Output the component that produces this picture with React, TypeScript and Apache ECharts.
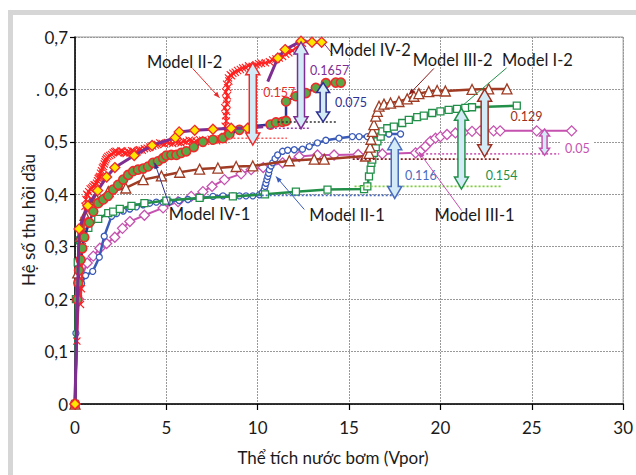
import React, { useEffect, useRef } from "react";
import * as echarts from "echarts";

// ---- axes ----
const xTicks = [0, 5, 10, 15, 20, 25, 30];
const yTickLabels = ["0", "0,1", "0,2", "0,3", "0,4", "0,5", ". 0,6", "0,7"];

// ---- recovery curves: [injected water (Vpor), oil recovery factor] ----
const modelII2: [number, number][] = [
  [0, 0], [0.1, 0.12], [0.2, 0.2], [0.3, 0.19], [0.35, 0.22], [0.4, 0.3], [0.45, 0.33], [0.5, 0.35],
  [0.55, 0.377], [0.6, 0.39], [0.64, 0.4], [0.7, 0.398], [0.75, 0.405], [0.83, 0.41], [0.91, 0.412],
  [0.98, 0.415], [1.05, 0.418], [1.12, 0.417], [1.18, 0.421], [1.23, 0.426], [1.27, 0.43], [1.32, 0.432],
  [1.36, 0.434], [1.4, 0.44], [1.45, 0.445], [1.5, 0.45], [1.55, 0.453], [1.6, 0.458], [1.64, 0.462],
  [1.68, 0.466], [1.73, 0.469], [1.8, 0.472], [1.9, 0.474], [2.0, 0.476], [2.09, 0.479], [2.17, 0.481],
  [2.25, 0.482], [2.35, 0.479], [2.45, 0.48], [2.52, 0.483], [2.6, 0.482], [2.7, 0.479], [2.8, 0.478],
  [2.9, 0.481], [3.0, 0.479], [3.1, 0.483], [3.2, 0.482], [3.3, 0.479], [3.4, 0.481], [3.48, 0.484],
  [3.55, 0.485], [3.68, 0.484], [3.8, 0.487], [3.95, 0.488], [4.1, 0.49], [4.25, 0.492], [4.4, 0.494],
  [4.52, 0.495], [4.64, 0.498], [4.77, 0.497], [4.9, 0.496], [5.05, 0.499], [5.18, 0.498], [5.35, 0.497],
  [5.5, 0.5], [5.65, 0.499], [5.8, 0.498], [5.95, 0.501], [6.1, 0.5], [6.25, 0.503], [6.4, 0.502],
  [6.52, 0.499], [6.64, 0.501], [6.82, 0.504], [7.0, 0.503], [7.15, 0.501], [7.3, 0.502], [7.45, 0.505],
  [7.6, 0.503], [7.75, 0.502], [7.9, 0.505], [8.0, 0.506], [8.1, 0.504], [8.2, 0.51], [8.24, 0.52],
  [8.22, 0.53], [8.28, 0.54], [8.25, 0.55], [8.3, 0.558], [8.2, 0.565], [8.32, 0.572], [8.27, 0.58],
  [8.34, 0.588], [8.25, 0.595], [8.36, 0.603], [8.3, 0.61], [8.42, 0.616], [8.4, 0.622], [8.5, 0.628],
  [8.57, 0.626], [8.64, 0.631], [8.77, 0.633], [8.9, 0.636], [9.05, 0.638], [9.18, 0.641], [9.33, 0.642],
  [9.5, 0.645], [9.7, 0.644], [9.91, 0.647], [10.05, 0.649], [10.2, 0.65], [10.42, 0.651], [10.64, 0.653],
  [10.82, 0.656], [11.0, 0.658], [11.18, 0.66], [11.36, 0.663], [11.53, 0.667], [11.7, 0.67],
  [11.9, 0.674], [12.09, 0.679], [12.27, 0.684], [12.45, 0.688],
];

const modelIV2: [number, number | string][] = [
  [0, 0], [0.22, 0.334], [0.7, 0.378], [1.24, 0.407], [1.73, 0.433], [2.18, 0.451], [3.24, 0.474],
  [4.22, 0.493], [5.49, 0.508], [5.7, 0.519], [6.55, 0.522], [7.55, 0.524], [8.55, 0.526],
  [9.45, 0.526], [10.3, 0.529], [10.4, "-"], [10.55, 0.615], [11.1, 0.66], [11.5, 0.676],
  [12.37, 0.692], [12.97, 0.69], [13.5, 0.69],
];
// points of Model IV-2 drawn without a marker
const modelIV2Unmarked = [14, 16];

const modelIV1: [number, number][] = [
  [0, 0], [0.13, 0.199], [0.18, 0.231], [0.22, 0.255], [0.31, 0.275], [0.4, 0.297], [0.51, 0.318],
  [0.78, 0.346], [1.0, 0.367], [1.27, 0.383], [1.55, 0.39], [1.82, 0.397], [2.09, 0.409], [2.36, 0.418],
  [2.64, 0.428], [2.91, 0.437], [3.18, 0.444], [3.45, 0.447], [3.73, 0.449], [4.0, 0.453], [4.27, 0.46],
  [4.54, 0.463], [4.82, 0.469], [5.0, 0.474], [5.27, 0.475], [5.55, 0.475], [5.82, 0.479], [6.09, 0.482],
  [6.5, 0.49], [7.0, 0.5], [7.55, 0.504], [8.09, 0.507], [8.45, 0.514], [9.0, 0.523], [9.7, 0.53],
  [10.7, 0.533], [11.0, 0.537], [11.35, 0.538], [11.55, 0.54], [11.55, 0.577], [12.09, 0.587],
  [12.64, 0.593], [13.18, 0.603], [13.73, 0.612], [14.27, 0.613], [14.55, 0.613],
];

const modelIII2: [number, number][] = [
  [0, 0], [0.15, 0.25], [0.3, 0.32], [0.55, 0.36], [0.82, 0.383], [1.18, 0.39], [1.82, 0.405],
  [2.78, 0.412], [3.73, 0.428], [4.73, 0.435], [5.73, 0.442], [6.82, 0.448], [7.82, 0.45], [8.82, 0.453],
  [9.73, 0.454], [11.73, 0.464], [13.09, 0.467], [13.64, 0.467], [15.9, 0.473], [16.1, 0.478],
  [16.15, 0.49], [16.2, 0.505], [16.28, 0.52], [16.36, 0.533], [16.46, 0.549], [16.55, 0.558],
  [16.64, 0.568], [16.91, 0.572], [17.27, 0.574], [17.73, 0.577], [18.18, 0.582], [18.55, 0.587],
  [18.82, 0.592], [19.36, 0.596], [19.82, 0.598], [20.27, 0.597], [21.73, 0.6], [22.64, 0.601],
  [23.64, 0.601],
];

const modelI2: [number, number][] = [
  [0, 0], [0.05, 0.2], [0.15, 0.27], [0.27, 0.312], [0.45, 0.322], [0.73, 0.336], [1.27, 0.353],
  [1.82, 0.364], [2.09, 0.367], [2.45, 0.372], [3.09, 0.378], [3.8, 0.383], [5.0, 0.388], [6.82, 0.393],
  [8.64, 0.396], [10.4, 0.4], [12.09, 0.405], [13.82, 0.409], [15.82, 0.41], [16.0, 0.415],
  [16.09, 0.434], [16.18, 0.447], [16.22, 0.46], [16.27, 0.466], [16.36, 0.479], [16.46, 0.49],
  [16.55, 0.501], [16.73, 0.51], [16.82, 0.52], [17.09, 0.526], [17.45, 0.529], [17.91, 0.536],
  [18.27, 0.542], [18.73, 0.547], [19.09, 0.55], [19.55, 0.555], [20.0, 0.558], [20.45, 0.561],
  [20.91, 0.563], [21.36, 0.565], [21.73, 0.566], [24.18, 0.569],
];

const modelII1: [number, number][] = [
  [0, 0], [0.05, 0.135], [0.18, 0.2], [0.36, 0.23], [0.58, 0.245], [0.97, 0.253], [1.33, 0.28],
  [1.6, 0.32], [2.0, 0.358], [2.27, 0.363], [2.64, 0.368], [3.0, 0.372], [3.36, 0.376], [3.73, 0.38],
  [4.09, 0.383], [4.45, 0.385], [4.82, 0.385], [5.18, 0.386], [5.7, 0.388], [6.18, 0.39], [6.9, 0.393],
  [7.55, 0.396], [8.1, 0.397], [8.64, 0.397], [9.0, 0.397], [9.36, 0.397], [9.73, 0.397], [10.09, 0.399],
  [10.25, 0.403], [10.36, 0.409], [10.4, 0.415], [10.45, 0.421], [10.5, 0.428], [10.55, 0.434],
  [10.6, 0.44], [10.64, 0.447], [10.73, 0.454], [10.82, 0.46], [10.95, 0.468], [11.09, 0.475],
  [11.36, 0.482], [11.64, 0.484], [12.0, 0.485], [12.45, 0.486], [12.82, 0.491], [13.27, 0.498],
  [13.73, 0.503], [14.45, 0.507], [15.18, 0.51], [15.55, 0.51], [16.0, 0.51], [16.64, 0.51],
  [17.18, 0.515], [17.82, 0.515],
];

const modelIII1: [number, number][] = [
  [0, 0], [0.2, 0.2], [0.4, 0.245], [0.67, 0.269], [1.0, 0.282], [1.36, 0.297], [1.73, 0.306],
  [2.18, 0.318], [2.6, 0.335], [3.0, 0.348], [3.8, 0.36], [4.82, 0.374], [5.64, 0.386], [6.36, 0.396],
  [7.0, 0.405], [7.5, 0.415], [8.18, 0.428], [9.09, 0.439], [9.64, 0.447], [10.3, 0.451], [11.36, 0.46],
  [12.27, 0.472], [13.27, 0.475], [14.18, 0.475], [15.5, 0.476], [16.82, 0.477], [18.64, 0.479],
  [18.9, 0.482], [19.18, 0.491], [19.45, 0.501], [19.73, 0.507], [20.0, 0.51], [20.36, 0.514],
  [20.82, 0.517], [21.27, 0.518], [21.73, 0.52], [22.18, 0.521], [22.91, 0.521], [23.27, 0.521],
  [25.27, 0.521], [27.18, 0.521],
];

// ---- recovery gain of the second stage ----
const gainValues = [0.157, 0.1657, 0.075, 0.116, 0.154, 0.129, 0.05];
const gainX = [9.73, 12.37, 13.58, 17.5, 21.15, 22.42, 25.7];
const gainBase = [0.494, 0.525, 0.538, 0.392, 0.41, 0.4715, 0.4745];

// ---- first-stage plateau levels (dotted reference lines) ----
const plateauY = [0.507, 0.526, 0.538, 0.398, 0.415, 0.467, 0.477];
const plateauFrom = [8.45, 10.5, 11.1, 10.0, 15.3, 15.2, 19.0];
const plateauTo = [11.6, 12.8, 14.3, 17.7, 23.3, 23.3, 26.5];

// ---- curve names ----
const modelNames = ["Model II-2", "Model IV-2", "Model III-2", "Model I-2", "Model IV-1", "Model II-1", "Model III-1"];

// styling / placement of the annotations
const gainColors = ["#ee2b2b", "#7e2d91", "#2e3192", "#4a6cc0", "#23904a", "#9c2f22", "#c652b0"];
const gainTextAt = [[11.18, 0.595], [13.94, 0.636], [15.11, 0.576], [18.93, 0.436], [23.35, 0.435], [24.71, 0.548], [27.49, 0.488]];
const gainArrowSize = [[3.5, 7, 12], [3.5, 7, 12], [3, 6.5, 10], [3.5, 7, 12], [3.5, 7, 12], [3.5, 7, 12], [2.5, 5, 7]];
const plateauColors = ["#ff5a5a", "#9b3fb0", "#333333", "#4a6cc0", "#7ccf3c", "#8b1a1a", "#d060b8"];
const nameColors = ["#e82c2c", "#7e2d91", "#8b1a1a", "#23904a", "#2e3192", "#3a5bb8", "#c652b0"];
const nameAt = [[6.0, 0.653], [16.15, 0.676], [20.67, 0.657], [25.31, 0.657], [7.36, 0.363], [14.89, 0.361], [21.87, 0.361]];
const leaderFrom = [[6.44, 0.64], [14.09, 0.668], [19.64, 0.64], [23.62, 0.641], [5.18, 0.377], [12.55, 0.371], [21.16, 0.369]];
const leaderTo = [[7.91, 0.584], [13.64, 0.687], [18.27, 0.59], [21.27, 0.571], [4.36, 0.46], [11.0, 0.434], [18.82, 0.481]];
const leaderHead = [true, false, true, false, true, true, true];

const FONT = "Lato, 'Open Sans', sans-serif";
const CROSS = "path://M0,1L1,0L5,4L9,0L10,1L6,5L10,9L9,10L5,6L1,10L0,9L4,5Z";

function lineSeries(name: string, data: any[], color: string, width: number, symbol: any, size: number, fill: string, border: string, bw: number, z: number) {
  return {
    type: "line",
    name,
    data,
    z,
    silent: true,
    lineStyle: { color, width },
    symbol,
    symbolSize: size,
    itemStyle: { color: fill, borderColor: border, borderWidth: bw },
    showAllSymbol: true,
    connectNulls: false,
  };
}

export default function App() {
  const ref = useRef<HTMLDivElement>(null);

  useEffect(() => {
    if (!ref.current) return;
    const chart = echarts.init(ref.current, null, { renderer: "svg" });

    const gainData = gainValues.map((v, i) => [gainX[i], gainBase[i], gainBase[i] + v, i]);
    const plateauData = plateauY.map((y, i) => [plateauFrom[i], plateauTo[i], y, i]);
    const nameData = modelNames.map((_, i) => [nameAt[i][0], nameAt[i][1], i]);

    const option: any = {
      animation: false,
      backgroundColor: "#ffffff",
      grid: { left: 75, top: 37, width: 550, height: 367, show: true, borderColor: "#9a9a9a", borderWidth: 1 },
      xAxis: {
        type: "value",
        min: 0,
        max: 30,
        interval: 5,
        axisLine: { lineStyle: { color: "#000", width: 1.5 } },
        axisTick: { show: true, length: 6, lineStyle: { color: "#000", width: 1.2 } },
        axisLabel: {
          color: "#1a1a1a",
          fontSize: 17,
          fontFamily: FONT,
          margin: 15,
          formatter: (v: number) => (xTicks.includes(v) ? String(v) : ""),
        },
        splitLine: { show: true, lineStyle: { color: "#999999", width: 1, type: [2, 1] } },
      },
      yAxis: {
        type: "value",
        min: 0,
        max: 0.7,
        interval: 0.1,
        axisLine: { show: true, lineStyle: { color: "#000", width: 1.5 } },
        axisTick: { show: true, length: 5, lineStyle: { color: "#000", width: 1.2 } },
        axisLabel: {
          color: "#1a1a1a",
          fontSize: 17,
          fontFamily: FONT,
          margin: 7,
          formatter: (v: number) => yTickLabels[Math.round(v * 10)] ?? "",
        },
        splitLine: { show: true, lineStyle: { color: "#999999", width: 1, type: [2, 1] } },
      },
      graphic: [
        {
          type: "rect",
          z: -10,
          shape: { x: 10.5, y: 12.5, width: 700, height: 600 },
          style: { fill: "none", stroke: "#d6d6d6", lineWidth: 5 },
        },
        {
          type: "text",
          x: 28,
          y: 220,
          rotation: Math.PI / 2,
          style: {
            text: "Hệ số thu hồi dầu",
            fill: "#1a1a1a",
            fontSize: 17,
            fontFamily: FONT,
            align: "center",
            verticalAlign: "middle",
          },
        },
        {
          type: "text",
          x: 333,
          y: 457,
          style: {
            text: "Thể tích nước bơm (Vpor)",
            fill: "#1a1a1a",
            fontSize: 17,
            fontFamily: FONT,
            align: "center",
            verticalAlign: "middle",
          },
        },
      ],
      series: [
        lineSeries(modelNames[6], modelIII1, "#c652b0", 2, "diamond", 10, "#ffffff", "#c652b0", 1.3, 2),
        lineSeries(modelNames[5], modelII1, "#3a5bb8", 2.5, "circle", 6, "#ffffff", "#3a5bb8", 1.3, 3),
        lineSeries(modelNames[3], modelI2, "#23904a", 2.5, "rect", 7, "#ffffff", "#23904a", 1.3, 4),
        lineSeries(modelNames[2], modelIII2, "#a03c24", 2.5, "triangle", 10, "#ffffff", "#a03c24", 1.3, 5),
        lineSeries(modelNames[0], modelII2, "#ff2a2a", 2, CROSS, 8, "#ff2020", "#ff2020", 0, 6),
        lineSeries(modelNames[4], modelIV1, "#2e3192", 2.5, "circle", 9, "#5aa845", "#ee2b2b", 1.6, 7),
        lineSeries(
          modelNames[1], modelIV2, "#7e2d91", 3,
          (_v: any, p: any) => (modelIV2Unmarked.includes(p.dataIndex) ? "none" : "diamond"),
          10, "#ffe600", "#ee2b2b", 1.3, 8,
        ),
        {
          type: "custom",
          name: "plateau",
          silent: true,
          z: 9,
          data: plateauData,
          renderItem: (_p: any, api: any) => {
            const i = api.value(3);
            const a = api.coord([api.value(0), api.value(2)]);
            const b = api.coord([api.value(1), api.value(2)]);
            return {
              type: "line",
              shape: { x1: a[0], y1: a[1], x2: b[0], y2: b[1] },
              style: { stroke: plateauColors[i], lineWidth: 1.6, lineDash: [2, 2] },
            };
          },
        },
        {
          type: "custom",
          name: "gain",
          silent: true,
          z: 10,
          data: gainData,
          renderItem: (_p: any, api: any) => {
            const i = api.value(3);
            const [cx, yb] = api.coord([api.value(0), api.value(1)]);
            const yt = api.coord([api.value(0), api.value(2)])[1];
            const [bw, hw, hl] = gainArrowSize[i];
            const pts = [
              [cx, yt], [cx + hw, yt + hl], [cx + bw, yt + hl], [cx + bw, yb - hl], [cx + hw, yb - hl],
              [cx, yb], [cx - hw, yb - hl], [cx - bw, yb - hl], [cx - bw, yt + hl], [cx - hw, yt + hl],
            ];
            const t = api.coord(gainTextAt[i]);
            return {
              type: "group",
              children: [
                {
                  type: "polygon",
                  shape: { points: pts },
                  style: { fill: "#d3ebf6", stroke: gainColors[i], lineWidth: 1.5 },
                },
                {
                  type: "text",
                  x: t[0],
                  y: t[1],
                  style: {
                    text: String(gainValues[i]),
                    fill: gainColors[i],
                    fontSize: 12.5,
                    fontFamily: FONT,
                    align: "center",
                    verticalAlign: "middle",
                    backgroundColor: i === 6 ? "#ffffff" : "transparent",
                    padding: i === 6 ? [2, 4] : 0,
                  },
                },
              ],
            };
          },
        },
        {
          type: "custom",
          name: "names",
          silent: true,
          z: 11,
          data: nameData,
          renderItem: (_p: any, api: any) => {
            const i = api.value(2);
            const t = api.coord(nameAt[i]);
            const f = api.coord(leaderFrom[i]);
            const e = api.coord(leaderTo[i]);
            const children: any[] = [
              {
                type: "line",
                shape: { x1: f[0], y1: f[1], x2: e[0], y2: e[1] },
                style: { stroke: nameColors[i], lineWidth: 1 },
              },
              {
                type: "text",
                x: t[0],
                y: t[1],
                style: {
                  text: modelNames[i],
                  fill: "#1a1a1a",
                  fontSize: 16.5,
                  fontFamily: FONT,
                  align: "center",
                  verticalAlign: "middle",
                },
              },
            ];
            if (leaderHead[i]) {
              const ang = Math.atan2(e[1] - f[1], e[0] - f[0]);
              const L = 6, W = 2.5;
              const bx = e[0] - L * Math.cos(ang), by = e[1] - L * Math.sin(ang);
              children.push({
                type: "polygon",
                shape: {
                  points: [
                    [e[0], e[1]],
                    [bx + W * Math.sin(ang), by - W * Math.cos(ang)],
                    [bx - W * Math.sin(ang), by + W * Math.cos(ang)],
                  ],
                },
                style: { fill: nameColors[i] },
              });
            }
            return { type: "group", children };
          },
        },
      ],
    };

    chart.setOption(option);
    return () => chart.dispose();
  }, []);

  return (
    <div
      ref={ref}
      style={{ position: "fixed", left: 0, top: 0, width: 636, height: 475, background: "#ffffff" }}
    />
  );
}
